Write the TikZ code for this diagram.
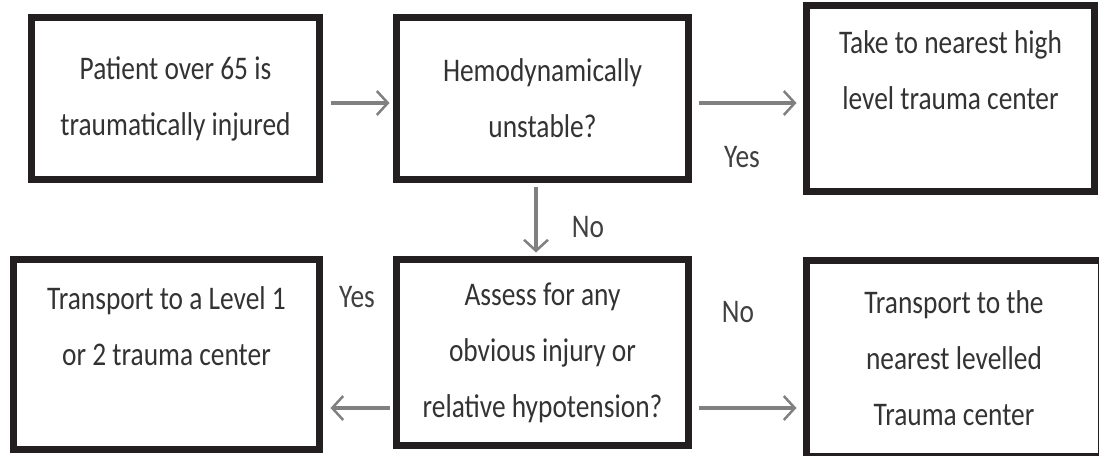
\documentclass[tikz,border=0pt]{standalone}
\usepackage{fontspec}
\setmainfont{Carlito}[FakeStretch=0.83]
\usetikzlibrary{arrows.meta}
\definecolor{boxline}{HTML}{231F20}
\definecolor{arrowgray}{HTML}{808080}

\begin{document}
\begin{tikzpicture}[x=1pt, y=-1pt,
  box/.style={draw=boxline, line width=7pt, align=center, text=black!80,
    inner sep=0pt, font=\fontsize{33}{56}\selectfont},
  arr/.style={->, >={Straight Barb[length=11pt, width=24pt, line width=2.5pt]},
    draw=arrowgray, line width=3.5pt},
  lbl/.style={text=black!75, font=\fontsize{33}{40}\selectfont}]

\useasboundingbox (0,0) rectangle (1099,455);

\def \yup {103}
\def \ylow {408}

% top row
\node[box, minimum width=288pt, minimum height=162pt] (patient) at (175.5,98.5)
  {Patient over 65 is\\traumatically injured};
\node[box, minimum width=292pt, minimum height=162pt] (unstable) at (542.5,98.5)
  {Hemodynamically\\unstable?};
\node[box, minimum width=288pt, minimum height=186pt] (nearest) at (950.5,98.5)
  {Take to nearest high\\level trauma center\\~};

% bottom row
\node[box, minimum width=306pt, minimum height=190pt] (level) at (166.5,354.5)
  {Transport to a Level 1\\or 2 trauma center\\~};
\node[box, minimum width=292pt, minimum height=186pt] (assess) at (542.5,352.5)
  {Assess for any\\obvious injury or\\relative hypotension?};
\node[box, minimum width=295pt, minimum height=196pt] (levelled) at (954,358.5)
  {Transport to the\\nearest levelled\\Trauma center};

\draw[arr, shorten <=7.5pt, shorten >=3.5pt] (patient.east |- 0,\yup) -- (unstable.west |- 0,\yup);
\draw[arr, shorten <=6.5pt, shorten >=6.5pt] (unstable.east |- 0,\yup) -- (nearest.west |- 0,\yup);
\draw[arr, shorten <=3.5pt, shorten >=3.5pt] (unstable.south -| 536,0) -- (assess.north -| 536,0);
\draw[arr, shorten <=3.5pt, shorten >=7.5pt] (assess.west |- 0,\ylow) -- (level.east |- 0,\ylow);
\draw[arr, shorten <=6.5pt, shorten >=6.5pt] (assess.east |- 0,\ylow) -- (levelled.west |- 0,\ylow);

\node[lbl] (yes1) at (742,157) {Yes};
\node[lbl] (no1) at (588,227) {No};
\node[lbl] (yes2) at (357,297) {Yes};
\node[lbl] (no2) at (738,312) {No};

\end{tikzpicture}
\end{document}
